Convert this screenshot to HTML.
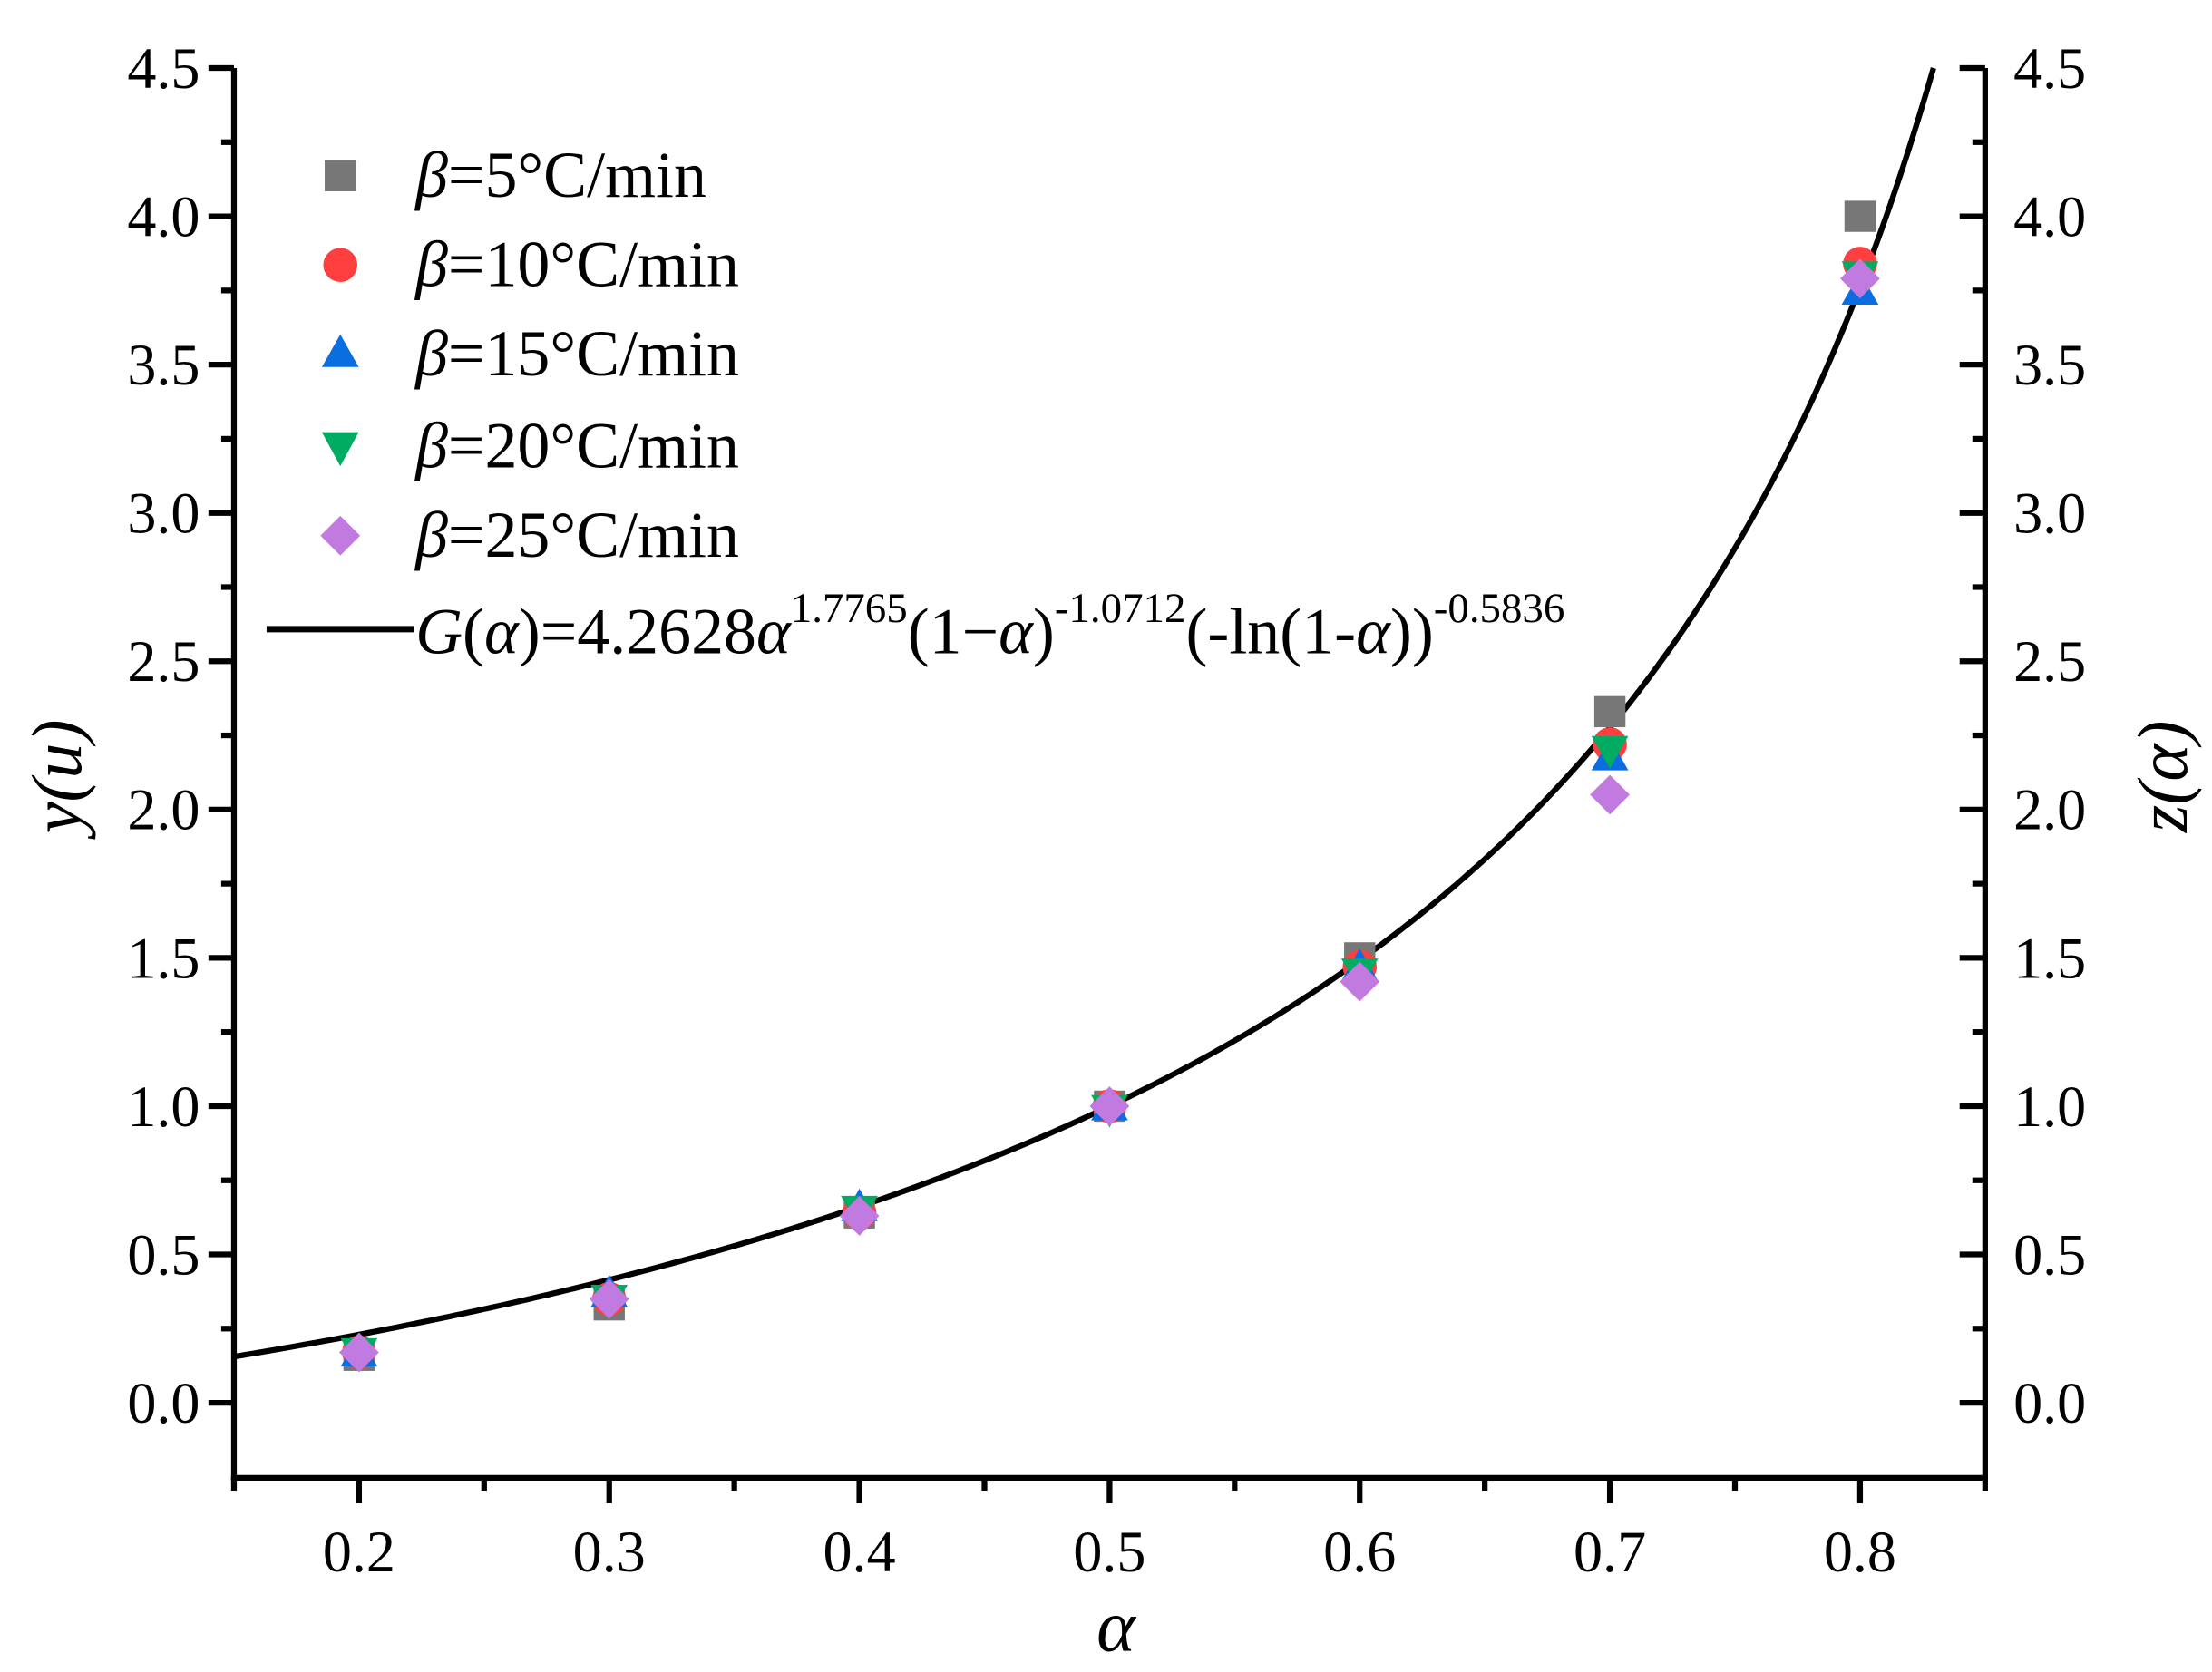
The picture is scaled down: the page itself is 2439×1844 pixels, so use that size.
<!DOCTYPE html>
<html><head><meta charset="utf-8"><style>
html,body{margin:0;padding:0;background:#fff}
svg{display:block}
text{font-family:"Liberation Serif","Times New Roman",serif;fill:#000}
</style></head><body>
<svg id="s" width="2439" height="1844" viewBox="0 0 1560 1180" preserveAspectRatio="none" xmlns="http://www.w3.org/2000/svg">
<g id="axes" stroke="#000" stroke-width="4" fill="none">
<line x1="165" y1="48" x2="165" y2="1045"/>
<line x1="1400" y1="48" x2="1400" y2="1045"/>
<line x1="163" y1="1043" x2="1402" y2="1043"/>
</g>
<g id="ticks" stroke="#000" stroke-width="4"></g>
<g id="labels" font-size="41"></g>
<path id="curve" fill="none" stroke="#000" stroke-width="4"/>
<g id="pts"></g>
<text x="45" y="560" font-size="50" font-style="italic" text-anchor="middle" transform="rotate(-90 45 548)">y(u)</text>
<text x="1530" y="560" font-size="50" font-style="italic" text-anchor="middle" transform="rotate(-90 1530 548)">z(α)</text>
<text x="787" y="1165" font-size="52" font-style="italic" text-anchor="middle">α</text>
<g font-size="46">
<rect x="229" y="113" width="22" height="22" fill="#777"/>
<circle cx="240" cy="187" r="12" fill="#ff3f3f"/>
<polygon points="240,236 253,259 227,259" fill="#0a6ee0"/>
<polygon points="227,305 253,305 240,329" fill="#00ac62"/>
<polygon points="240,364 254,378 240,392 226,378" fill="#c07ae0"/>
<text x="293" y="139"><tspan font-style="italic">β</tspan>=5°C/min</text>
<text x="293" y="202"><tspan font-style="italic">β</tspan>=10°C/min</text>
<text x="293" y="265"><tspan font-style="italic">β</tspan>=15°C/min</text>
<text x="293" y="330"><tspan font-style="italic">β</tspan>=20°C/min</text>
<text x="293" y="393"><tspan font-style="italic">β</tspan>=25°C/min</text>
<line x1="188" y1="444" x2="292" y2="444" stroke="#000" stroke-width="4.5"/>
<text x="293" y="461"><tspan font-style="italic">G</tspan>(<tspan font-style="italic">α</tspan>)=4.2628<tspan font-style="italic">α</tspan><tspan font-size="30" dy="-22">1.7765</tspan><tspan dy="22">(1−</tspan><tspan font-style="italic">α</tspan>)<tspan font-size="30" dy="-22">-1.0712</tspan><tspan dy="22">(-ln(1-</tspan><tspan font-style="italic">α</tspan>))<tspan font-size="30" dy="-22">-0.5836</tspan></text>
</g>
</svg>
<script>
var NS="http://www.w3.org/2000/svg";
function X(a){return 165+(a-0.15)/0.7*1235;}
function Y(v){return 990-v*(942/4.5);}
function el(p,t,at,txt){var e=document.createElementNS(NS,t);for(var k in at)e.setAttribute(k,at[k]);if(txt!=null)e.textContent=txt;document.getElementById(p).appendChild(e);return e;}
for(var i=0;i<=18;i++){var v=i*0.25;var y=Y(v);var maj=(i%2==0);
 el("ticks","line",{x1:165,y1:y,x2:maj?147:156,y2:y});
 el("ticks","line",{x1:1400,y1:y,x2:maj?1382:1391,y2:y});
 if(maj){el("labels","text",{x:141,y:y+14,"text-anchor":"end"},v.toFixed(1));
 el("labels","text",{x:1420,y:y+14,"text-anchor":"start"},v.toFixed(1));}}
for(var i=0;i<=14;i++){var a=0.15+i*0.05;var x=X(a);var maj=(i%2==1);
 el("ticks","line",{x1:x,y1:1043,x2:x,y2:maj?1061:1052});
 if(maj)el("labels","text",{x:x,y:1109,"text-anchor":"middle"},a.toFixed(1));}
function G(a){return 4.2628*Math.pow(a,1.7765)*Math.pow(1-a,-1.0712)*Math.pow(-Math.log(1-a),-0.5836);}
var g5=G(0.5),d="";
for(var a=0.15;a<=0.84;a+=0.002){var v=G(a)/g5;var y=Y(v);if(y<48){break;}d+=(d?"L":"M")+X(a).toFixed(2)+","+y.toFixed(2);}
var lo=a-0.002,hi=a;for(var k=0;k<30;k++){var m=(lo+hi)/2;if(G(m)/g5>4.5)hi=m;else lo=m;}
d+="L"+X(lo).toFixed(2)+","+Y(4.5).toFixed(2);
document.getElementById("curve").setAttribute("d",d);
var A=[0.2,0.3,0.4,0.5,0.6,0.7,0.8];
var S=[[0.16,0.33,0.64,1.0,1.5,2.33,4.0],[0.17,0.35,0.64,1.0,1.47,2.22,3.84],[0.17,0.37,0.66,1.0,1.47,2.18,3.75],[0.17,0.35,0.65,0.99,1.45,2.2,3.8],[0.17,0.35,0.63,1.0,1.42,2.05,3.79]];
for(var i=0;i<7;i++){var x=X(A[i]);
 var y=Y(S[0][i]);el("pts","rect",{x:x-11,y:y-11,width:22,height:22,fill:"#777"});
 y=Y(S[1][i]);el("pts","circle",{cx:x,cy:y,r:12,fill:"#ff3f3f"});
 y=Y(S[2][i]);el("pts","polygon",{points:(x)+","+(y-13)+" "+(x+13)+","+(y+10)+" "+(x-13)+","+(y+10),fill:"#0a6ee0"});
 y=Y(S[3][i]);el("pts","polygon",{points:(x-13)+","+(y-10)+" "+(x+13)+","+(y-10)+" "+x+","+(y+13),fill:"#00ac62"});
 y=Y(S[4][i]);el("pts","polygon",{points:x+","+(y-14)+" "+(x+14)+","+y+" "+x+","+(y+14)+" "+(x-14)+","+y,fill:"#c07ae0"});}
</script>
</body></html>
